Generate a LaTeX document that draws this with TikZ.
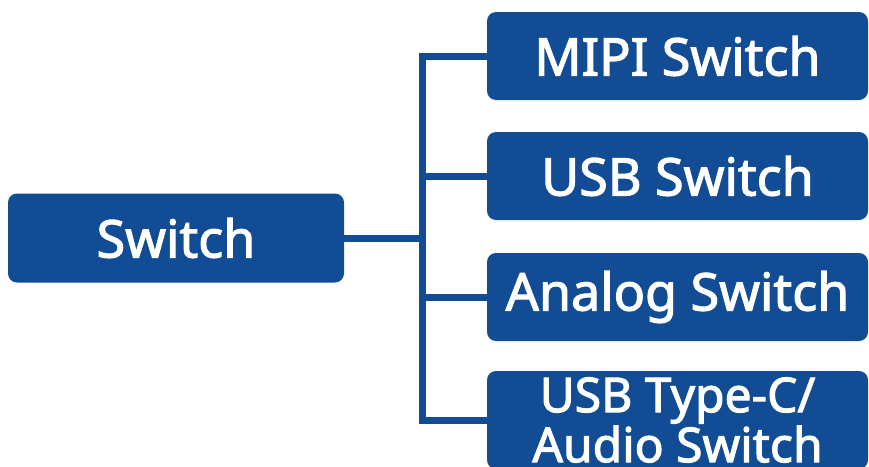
\documentclass[tikz,border=0pt]{standalone}
\usepackage{fontspec}
\setmainfont{Noto Sans}[AutoFakeBold=2.2]
\usetikzlibrary{positioning}
\definecolor{switchblue}{HTML}{114C94}
\tikzset{
    box/.style={fill=switchblue, rounded corners=9pt, text=white, inner sep=0pt, align=center,
        font=\bfseries\fontsize{52}{52}\selectfont},
    leaf/.style={box, minimum width=381pt, minimum height=88pt},
    branch/.style={draw=switchblue, line width=7pt}
}
\begin{document}
\begin{tikzpicture}[x=1pt, y=-1pt]
    \useasboundingbox (0,0) rectangle (869,466);

    % root
    \node[box, minimum width=336pt, minimum height=89pt] (switch) at (176,238) {Switch};

    % leaves
    \node[leaf] (mipi) at (677.5,56) {MIPI Switch};
    \node[leaf] (usb) at (677.5,176) {USB Switch};
    \node[leaf] (analog) at (677.5,297) {Analog Switch};
    \node[leaf, minimum height=98pt, font=\bfseries\fontsize{48}{50}\selectfont]
        (audio) at (677.5,420) {USB Type-C/\\Audio Switch};

    % connectors
    \coordinate (hub) at (422,238);
    \draw[branch] (switch.east) -- (hub);
    \draw[branch] (mipi.west) -| (hub) |- (audio.west);
    \foreach \leaf in {usb, analog}
    {
        \draw[branch] (\leaf.west) -- (\leaf.west -| hub);
    }
\end{tikzpicture}
\end{document}
